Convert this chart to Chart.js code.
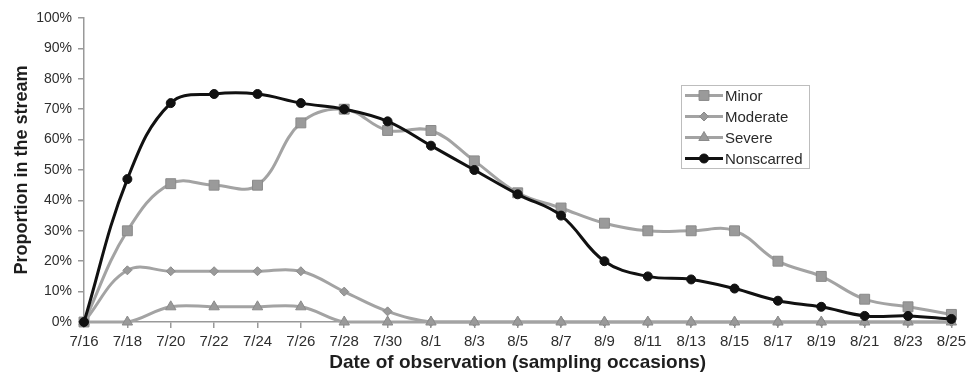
<!DOCTYPE html>
<html>
<head>
<meta charset="utf-8">
<script src="https://cdn.jsdelivr.net/npm/chart.js@4/dist/chart.umd.min.js"></script>
<style>
  html, body { margin: 0; padding: 0; background: #fff; }
  #wrap { width: 971px; height: 372px; position: relative; }
</style>
</head>
<body>
<div id="wrap"><canvas id="chart"></canvas></div>
<script>
// sampling dates
const dates = ['7/16', '7/18', '7/20', '7/22', '7/24', '7/26', '7/28', '7/30', '8/1', '8/3', '8/5',
  '8/7', '8/9', '8/11', '8/13', '8/15', '8/17', '8/19', '8/21', '8/23', '8/25'];

// proportion (%) of fish in the stream per scar class
const minor = [0, 30, 45.5, 45, 45, 65.5, 70, 63, 63, 53, 42.5, 37.5, 32.5, 30, 30, 30, 20, 15, 7.5, 5, 2.5];
const moderate = [0, 17, 16.7, 16.7, 16.7, 16.7, 10, 3.5, 0, 0, 0, 0, 0, 0, 0, 0, 0, 0, 0, 0, 0];
const severe = [0, 0, 5, 5, 5, 5, 0, 0, 0, 0, 0, 0, 0, 0, 0, 0, 0, 0, 0, 0, 0];
const nonscarred = [0, 47, 72, 75, 75, 72, 70, 66, 58, 50, 42, 35, 20, 15, 14, 11, 7, 5, 2, 2, 1];

const yTicks = [0, 10, 20, 30, 40, 50, 60, 70, 80, 90, 100];

const GREY = '#a3a3a3';
const GREY_PT = '#9a9a9a';
const BLACK = '#111';
const FONT = '"Liberation Sans", Arial, sans-serif';

function serie(label, data, color, ptColor, style, radius, order) {
  return {
    label, data, order,
    borderColor: color,
    backgroundColor: ptColor,
    pointBackgroundColor: ptColor,
    pointBorderColor: ptColor === BLACK ? BLACK : '#8a8a8a',
    pointBorderWidth: 1,
    pointStyle: style,
    pointRadius: radius,
    borderWidth: 3,
    tension: 0.4,
    clip: false
  };
}

const datasets = [
  serie('Minor', minor, GREY, GREY_PT, 'rect', 7, 3),
  serie('Moderate', moderate, GREY, GREY_PT, 'rectRot', 4.5, 2),
  serie('Severe', severe, GREY, GREY_PT, 'triangle', 6, 1),
  serie('Nonscarred', nonscarred, BLACK, BLACK, 'circle', 4.5, 0)
];

// boxed legend with a line sample and marker per series
const boxLegend = {
  id: 'boxLegend',
  afterDraw(chart) {
    const ctx = chart.ctx;
    const x = 681, y = 85, w = 128, h = 83;
    ctx.save();
    ctx.fillStyle = '#fff';
    ctx.fillRect(x, y, w, h);
    ctx.strokeStyle = '#bdbdbd';
    ctx.lineWidth = 1;
    ctx.strokeRect(x + 0.5, y + 0.5, w, h);
    ctx.font = '15px ' + FONT;
    ctx.textBaseline = 'middle';
    datasets.forEach((ds, i) => {
      const cy = y + 10.5 + i * 21;
      ctx.strokeStyle = ds.borderColor;
      ctx.lineWidth = 3;
      ctx.beginPath();
      ctx.moveTo(x + 4, cy);
      ctx.lineTo(x + 42, cy);
      ctx.stroke();
      ctx.fillStyle = ds.pointBackgroundColor;
      ctx.strokeStyle = ds.pointBorderColor;
      ctx.lineWidth = 1;
      Chart.helpers.drawPoint(ctx, { pointStyle: ds.pointStyle, radius: ds.pointRadius, rotation: 0, borderWidth: 1 }, x + 23, cy);
      ctx.fillStyle = '#2a2a2a';
      ctx.fillText(ds.label, x + 44, cy + 1);
    });
    ctx.restore();
  }
};

new Chart(document.getElementById('chart'), {
  type: 'line',
  data: { labels: dates, datasets },
  plugins: [boxLegend],
  options: {
    responsive: true,
    maintainAspectRatio: false,
    animation: false,
    layout: { padding: { top: 18, right: 15, left: 0, bottom: 0 } },
    plugins: { legend: { display: false }, tooltip: { enabled: false } },
    scales: {
      x: {
        offset: false,
        grid: { drawOnChartArea: false, drawTicks: true, tickLength: 6, color: '#999', lineWidth: 1.5 },
        border: { color: '#999', width: 1.5 },
        ticks: {
          color: '#2e2e2e', padding: 5, maxRotation: 0, autoSkip: false,
          font: { family: FONT, size: 15 }
        },
        title: {
          display: true, text: 'Date of observation (sampling occasions)', color: '#1e1e1e',
          font: { family: FONT, size: 19, weight: 'bold' },
          padding: { top: 0, bottom: -2 }
        },
        afterFit(s) { s.height = 50; }
      },
      y: {
        min: 0, max: 100,
        afterBuildTicks(s) { s.ticks = yTicks.map(v => ({ value: v })); },
        grid: { drawOnChartArea: false, drawTicks: true, tickLength: 6, color: '#999', lineWidth: 1.5 },
        border: { color: '#999', width: 1.5 },
        ticks: {
          color: '#2e2e2e', padding: 6,
          font: { family: FONT, size: 14 },
          callback: v => v + '%'
        },
        title: {
          display: true, text: 'Proportion in the stream', color: '#1e1e1e',
          font: { family: FONT, size: 18, weight: 'bold' },
          padding: { top: 11, bottom: 0 }
        },
        afterFit(s) { s.width = 84; }
      }
    }
  }
});
</script>
</body>
</html>
